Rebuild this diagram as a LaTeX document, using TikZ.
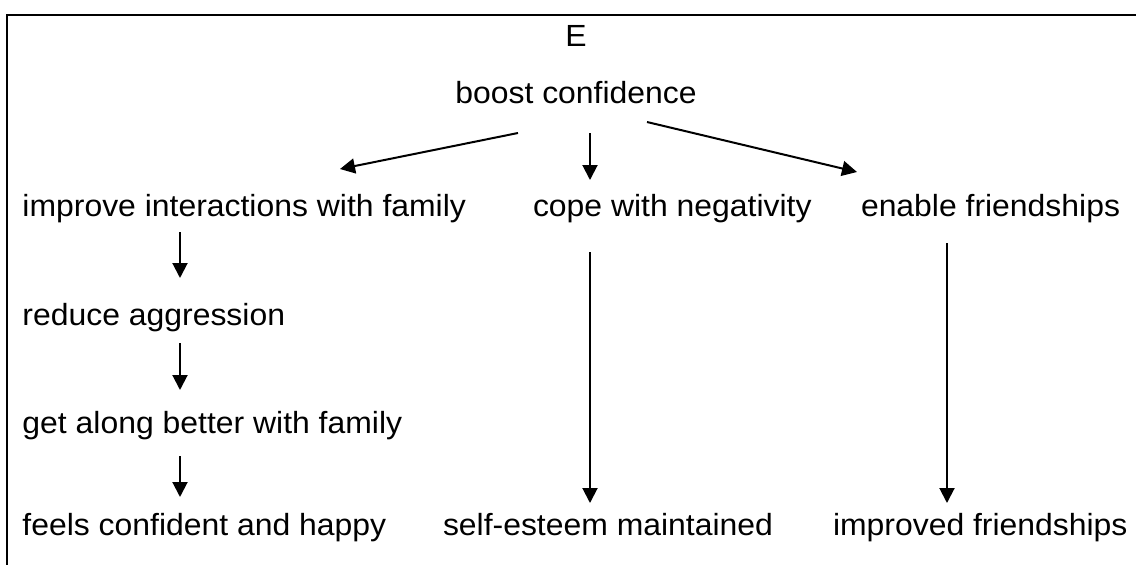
\documentclass[tikz,border=0pt]{standalone}
\usepackage{fontspec}
\setmainfont{Liberation Sans}[FakeStretch=1.043]
\usetikzlibrary{arrows.meta}
\tikzset{
  lbl/.style={inner sep=0pt, outer sep=0pt, font=\fontsize{30.6pt}{36pt}\selectfont},
  arr/.style={line width=2pt, -{Triangle[length=15pt,width=15pt]}},
  frame/.style={line width=2pt}
}
\begin{document}
\begin{tikzpicture}[x=1pt,y=-1pt]
\useasboundingbox (0,0) rectangle (1136,565);
\draw[frame] (7,565) -- (7,15) -- (1136,15);
% nodes
\node[lbl, anchor=base] (E) at (576,46.7) {E};
\node[lbl, anchor=base] (boost) at (576,103.3) {boost confidence};
\node[lbl, anchor=base west] (improve) at (22.5,216.5) {improve interactions with family};
\node[lbl, anchor=base west] (cope) at (533,216.5) {cope with negativity};
\node[lbl, anchor=base west] (enable) at (861,216.5) {enable friendships};
\node[lbl, anchor=base west] (reduce) at (22.5,325) {reduce aggression};
\node[lbl, anchor=base west] (getalong) at (22.5,433) {get along better with family};
\node[lbl, anchor=base west] (feels) at (22.5,535) {feels confident and happy};
\node[lbl, anchor=base west] (selfesteem) at (443,535) {self-esteem maintained};
\node[lbl, anchor=base west] (improved) at (833,535) {improved friendships};
% connector ends
\coordinate (boostL) at (518,133);
\coordinate (improveT) at (340,169);
\coordinate (boostM) at (590,133);
\coordinate (copeT) at (590,180);
\coordinate (boostR) at (647,122);
\coordinate (enableT) at (857,172);
\coordinate (improveB) at (180,232);
\coordinate (reduceT) at (180,278);
\coordinate (reduceB) at (180,343);
\coordinate (getalongT) at (180,390);
\coordinate (getalongB) at (180,456);
\coordinate (feelsT) at (180,497);
\coordinate (copeB) at (590,252);
\coordinate (selfesteemT) at (590,503);
\coordinate (enableB) at (947,243);
\coordinate (improvedT) at (947,503);
% connectors
\draw[arr] (boostL) -- (improveT);
\draw[arr] (boostM) -- (copeT);
\draw[arr] (boostR) -- (enableT);
\draw[arr] (improveB) -- (reduceT);
\draw[arr] (reduceB) -- (getalongT);
\draw[arr] (getalongB) -- (feelsT);
\draw[arr] (copeB) -- (selfesteemT);
\draw[arr] (enableB) -- (improvedT);
\end{tikzpicture}
\end{document}
